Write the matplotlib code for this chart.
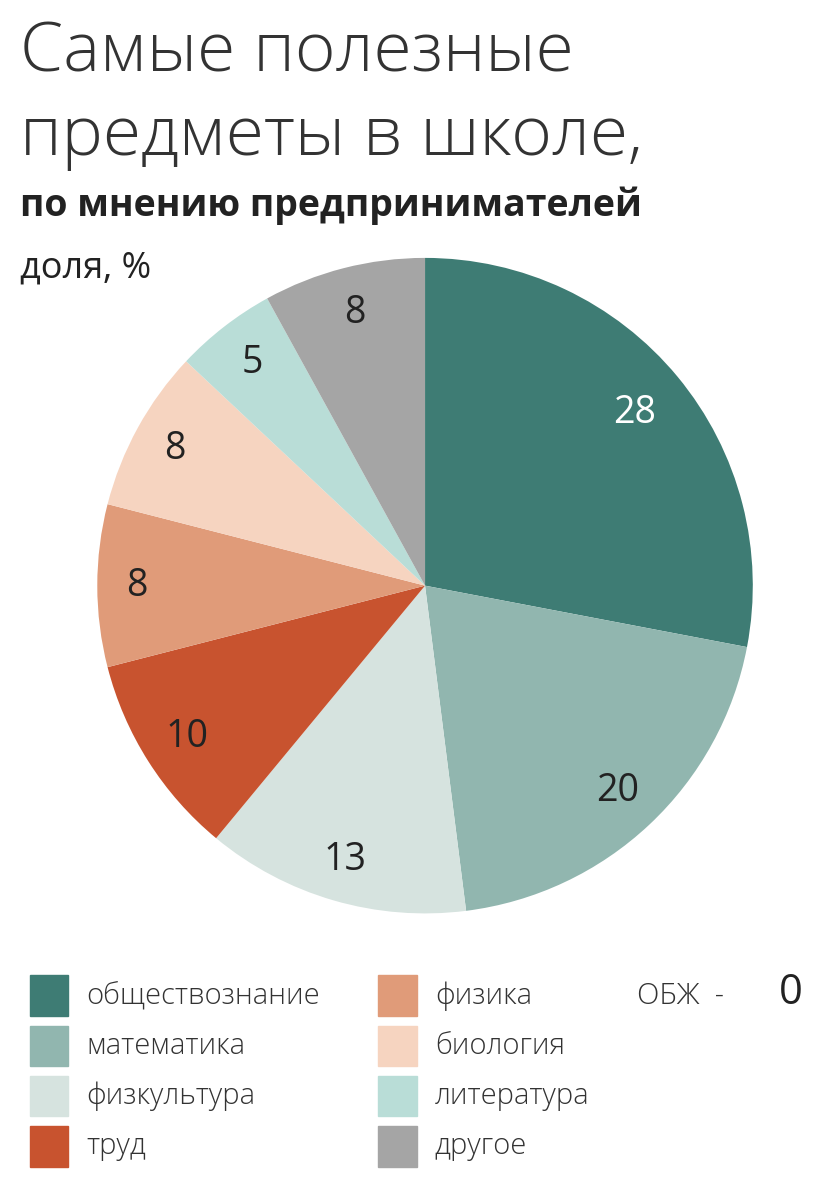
import numpy as np
import matplotlib.pyplot as plt
from matplotlib.patches import Rectangle

labels = ["обществознание", "математика", "физкультура", "труд",
          "физика", "биология", "литература", "другое"]
values = [28, 20, 13, 10, 8, 8, 5, 8]
colors = ["#3e7c74", "#91b6af", "#d6e3df", "#c8532f",
          "#e09b79", "#f6d4c0", "#b9ddd7", "#a5a5a5"]
txtcol = ["white", "#222", "#222", "#222", "#222", "#222", "#222", "#222"]
radii = [0.83, 0.86, 0.87, 0.86, 0.88, 0.87, 0.86, 0.86]

fig = plt.figure(figsize=(8.33, 11.94), dpi=100)
fig.patch.set_facecolor("white")
fnt = "Open Sans"

fig.text(0.024, 0.955, "Самые полезные", fontsize=50, family=fnt, weight="light",
         color="#333", va="center")
fig.text(0.024, 0.885, "предметы в школе,", fontsize=50, family=fnt, weight="light",
         color="#333", va="center")
fig.text(0.024, 0.828, "по мнению предпринимателей", fontsize=27, family=fnt,
         weight="bold", color="#222", va="center")
fig.text(0.024, 0.775, "доля, %", fontsize=26, family=fnt, color="#222", va="center")

ax = fig.add_axes([0.1165, 0.235, 0.7875, 0.549])
wedges, _ = ax.pie(values, colors=colors, startangle=90, counterclock=False,
                   wedgeprops=dict(linewidth=0))
for w, v, c, r in zip(wedges, values, txtcol, radii):
    a = np.deg2rad((w.theta1 + w.theta2) / 2)
    ax.text(r * np.cos(a), r * np.sin(a), str(v), fontsize=27, family=fnt,
            color=c, ha="center", va="center")
ax.set_xlim(-1, 1)
ax.set_ylim(-1, 1)
ax.set_aspect("equal")

lx = [0.036, 0.454]
ys = [0.166, 0.124, 0.082, 0.040]
for i, (lab, col) in enumerate(zip(labels, colors)):
    x = lx[i // 4]
    y = ys[i % 4]
    fig.patches.append(Rectangle((x, y - 0.017), 0.046, 0.034, color=col,
                                 transform=fig.transFigure, figure=fig))
    fig.text(x + 0.068, y, lab, fontsize=21, family=fnt, weight="light",
             color="#333", va="center")
fig.text(0.765, 0.166, "ОБЖ  -", fontsize=21, family=fnt, weight="light",
         color="#333", va="center")
fig.text(0.935, 0.168, "0", fontsize=30, family=fnt, color="#222", va="center")

fig.savefig("out.png", dpi=100)
